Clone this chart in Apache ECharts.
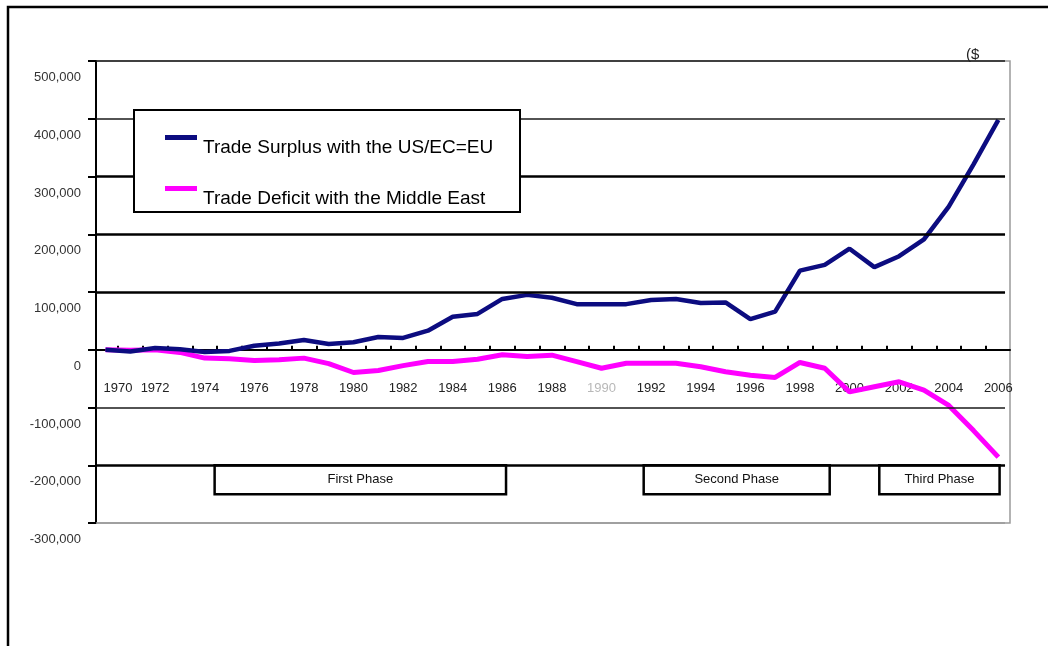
<!DOCTYPE html>
<html>
<head>
<meta charset="utf-8">
<script src="https://cdn.jsdelivr.net/npm/echarts@6/dist/echarts.min.js"></script>
<style>
html,body{margin:0;padding:0;background:#fff;}
#chart{width:1048px;height:646px;}
</style>
</head>
<body>
<div id="chart"></div>
<script>
// ---- data ----
const years = [1970,1971,1972,1973,1974,1975,1976,1977,1978,1979,1980,1981,1982,1983,1984,1985,1986,1987,1988,1989,1990,1991,1992,1993,1994,1995,1996,1997,1998,1999,2000,2001,2002,2003,2004,2005,2006];
const surplusUSEU = [0,-3000,3000,1000,-4000,-2000,7000,11000,17000,10000,13000,22000,20500,33000,57000,62000,88000,95000,90000,79000,79000,79000,86000,88000,81000,82000,53000,66000,137000,147000,175000,143000,162000,191000,248000,321000,398000];
const deficitME = [0,-1000,0,-4600,-14500,-15700,-18600,-17400,-14500,-24000,-39400,-36000,-27500,-20500,-20500,-16400,-8800,-11700,-9400,-20500,-32000,-23400,-23400,-23400,-29500,-38000,-44000,-48000,-22000,-32000,-73000,-64000,-55500,-70000,-96500,-140000,-186000];
const seriesNames = ['Trade Surplus with the US/EC=EU', 'Trade Deficit with the Middle East'];
const yearLabels = [1970,1972,1974,1976,1978,1980,1982,1984,1986,1988,1990,1992,1994,1996,1998,2000,2002,2004,2006];
const yTicks = [500000,400000,300000,200000,100000,-100000,-200000,-300000];
const phaseNames = ['First Phase','Second Phase','Third Phase'];
const phaseStart = [1974.4,1991.7,2001.2];
const phaseEnd = [1986.15,1999.2,2006.05];
const phaseTop = -200000;
const phaseBottom = -250000;
const unitLabel = '($';

// ---- chart ----
const X_MIN = 1969.617, X_MAX = 2006.47, X_GRID_END = 2006.27;
const Y_MIN = -300000, Y_MAX = 500000;
const GRID_TOP = 61, GRID_BOTTOM = 123, CHART_H = 646;
const tickPositions = years.slice(0, -1).map(y => y + 0.5);
// pixel distance from grid bottom up to the zero line
const plotH = CHART_H - GRID_TOP - GRID_BOTTOM;
const zeroOffset = plotH * (0 - Y_MIN) / (Y_MAX - Y_MIN);

function gridStyle(v) {
  if (v === -300000) return {color:'#9a9a9a', width:1.5, type:'solid'};
  if (v === 500000 || v === 400000 || v === -100000) return {color:'#1a1a1a', width:1.5, type:'solid'};
  return {color:'#000', width:2.6, type:'solid'};
}

const chart = echarts.init(document.getElementById('chart'), null, {renderer:'canvas'});
const option = {
  animation: false,
  backgroundColor: '#fff',
  textStyle: {fontFamily: 'Liberation Sans, Arial, sans-serif'},
  title: {
    text: unitLabel, left: 961, top: 42,
    textStyle: {fontSize: 15, fontWeight: 'normal', color: '#222'}
  },
  grid: {
    left: 96, right: 38, top: GRID_TOP, bottom: GRID_BOTTOM,
    show: true, borderColor: '#9a9a9a', borderWidth: 1.5, backgroundColor: 'transparent'
  },
  xAxis: {
    type: 'value', min: X_MIN, max: X_MAX, position: 'bottom', offset: -zeroOffset,
    axisLine: {onZero: false, lineStyle: {color:'#000', width:2}},
    axisTick: {show: true, inside: true, length: 4, customValues: tickPositions, lineStyle: {color:'#000', width:2}},
    splitLine: {show: false},
    axisLabel: {
      customValues: yearLabels, margin: 32, fontSize: 13, color: '#222',
      formatter: function (v) {
        const y = Math.round(v);
        if (y === 1970) return '{first|' + y + '}';
        if (y === 1990) return '{faint|' + y + '}';
        return String(y);
      },
      rich: {
        first: {fontSize: 13, color: '#222', padding: [0,0,0,25]},
        faint: {fontSize: 13, color: '#b8b8b8'}
      }
    }
  },
  yAxis: {
    type: 'value', min: Y_MIN, max: Y_MAX, interval: 100000,
    axisLine: {show: true, onZero: false, lineStyle: {color:'#000', width:2}},
    axisTick: {show: true, length: 8, lineStyle: {color:'#000', width:2}},
    splitLine: {show: false},
    axisLabel: {
      fontSize: 13, color: '#333', margin: 15, verticalAlign: 'top', lineHeight: 33,
      formatter: function (v) { return v === 0 ? '0' : v.toLocaleString('en-US'); }
    }
  },
  legend: {
    data: seriesNames, orient: 'vertical', left: 165, top: 118, padding: 0,
    itemGap: 12, itemWidth: 32, itemHeight: 5, icon: 'rect', z: 20,
    formatter: function (name) { return '{t|' + name + '}'; },
    textStyle: {
      fontSize: 19, color: '#000',
      rich: {t: {fontSize: 19, color: '#000', lineHeight: 22, padding: [20,0,0,1]}}
    }
  },
  graphic: [
    {type:'rect', z: 15, shape:{x:134, y:110, width:386, height:102},
     style:{fill:'#fff', stroke:'#000', lineWidth:2}},
    {type:'rect', z: 30, silent: true, shape:{x:8, y:7, width:1200, height:800},
     style:{fill:'none', stroke:'#000', lineWidth:2.5}}
  ],
  series: [
    {
      name: 'grid', type: 'line', data: [], z: 1, silent: true,
      markLine: {
        silent: true, symbol: ['none','none'], label: {show: false},
        data: yTicks.map(v => [
          {coord: [X_MIN, v], lineStyle: gridStyle(v)},
          {coord: [X_GRID_END, v]}
        ])
      },
      markArea: {
        silent: true,
        itemStyle: {color: '#fff', borderColor: '#000', borderWidth: 2.5},
        label: {show: true, position: 'inside', color: '#111', fontSize: 13},
        data: phaseNames.map((n, i) => [
          {name: n, coord: [phaseStart[i], phaseTop]},
          {coord: [phaseEnd[i], phaseBottom]}
        ])
      }
    },
    {
      name: seriesNames[1], type: 'line', z: 3, symbol: 'none',
      data: years.map((y, i) => [y, deficitME[i]]),
      lineStyle: {color: '#ff00ff', width: 5},
      itemStyle: {color: '#ff00ff'}
    },
    {
      name: seriesNames[0], type: 'line', z: 4, symbol: 'none',
      data: years.map((y, i) => [y, surplusUSEU[i]]),
      lineStyle: {color: '#0c0c80', width: 4.5},
      itemStyle: {color: '#0c0c80'}
    }
  ]
};
chart.setOption(option);
</script>
</body>
</html>
